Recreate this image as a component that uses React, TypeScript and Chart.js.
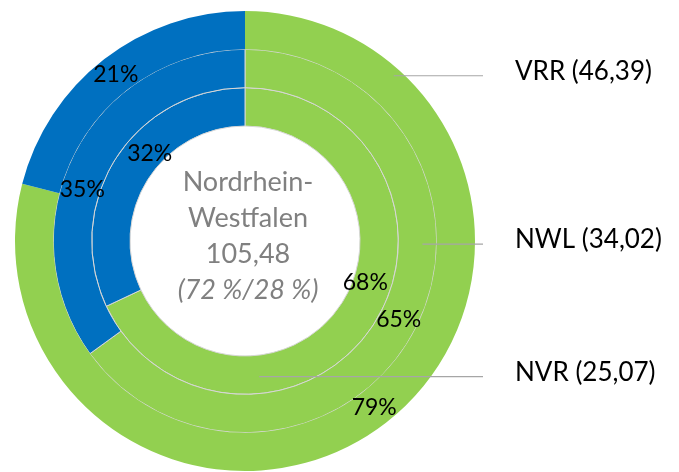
import React, { useEffect, useRef } from "react";
import { Chart, registerables } from "chart.js";

Chart.register(...registerables);

// Rings from outside to inside
const ringNames = ["VRR", "NWL", "NVR"];
const ringValues = [46.39, 34.02, 25.07];
const greenShare = [79, 65, 68];
const blueShare = [21, 35, 32];
const centerTitle = ["Nordrhein-", "Westfalen"];
const totalValue = 105.48;
const overallSplit = [72, 28];

const GREEN = "#92D050";
const BLUE = "#0070C0";
const FONT = "Lato, 'Open Sans', sans-serif";

// pixel nudges for percent labels [ring][segment]
const labelNudges = [
  [{ dx: 0, dy: 0 }, { dx: 0, dy: 0 }],
  [{ dx: 0, dy: 0 }, { dx: -9, dy: 27 }],
  [{ dx: 7, dy: -30 }, { dx: 18, dy: -16 }],
];
// leader anchors: angle clockwise from top (deg), fraction across ring
const leaderAnchors = [
  { angle: 42, frac: 0.8 },
  { angle: 91, frac: 0.63 },
  { angle: 174, frac: 0.56 },
];

const fmt = (v: number) => v.toFixed(2).replace(".", ",");

const labelPlugin = {
  id: "ringLabels",
  afterDraw(chart: any) {
    const ctx = chart.ctx;
    ctx.save();
    let cx = 0;
    let cy = 0;
    chart.data.datasets.forEach((ds: any, di: number) => {
      const meta = chart.getDatasetMeta(di);
      const total = ds.data.reduce((a: number, b: number) => a + b, 0);
      meta.data.forEach((arc: any, i: number) => {
        const p = arc.getProps(["x", "y", "startAngle", "endAngle", "innerRadius", "outerRadius"], true);
        cx = p.x;
        cy = p.y;
        const mid = (p.startAngle + p.endAngle) / 2;
        const r = (p.innerRadius + p.outerRadius) / 2;
        const n = labelNudges[di][i];
        const x = p.x + Math.cos(mid) * r + n.dx;
        const y = p.y + Math.sin(mid) * r + n.dy;
        ctx.font = `23px ${FONT}`;
        ctx.fillStyle = "#000";
        ctx.textAlign = "center";
        ctx.textBaseline = "middle";
        ctx.fillText(Math.round((ds.data[i] / total) * 100) + "%", x, y);
      });
      // leader line & ring label
      const a0 = meta.data[0].getProps(["innerRadius", "outerRadius"], true);
      const anc = leaderAnchors[di];
      const rr = a0.innerRadius + (a0.outerRadius - a0.innerRadius) * anc.frac;
      const ang = (anc.angle * Math.PI) / 180;
      const sx = cx + Math.sin(ang) * rr;
      const sy = cy - Math.cos(ang) * rr;
      const ex = chart.chartArea.right + 8;
      ctx.strokeStyle = "#a6a6a6";
      ctx.lineWidth = 1.2;
      ctx.beginPath();
      ctx.moveTo(sx, sy);
      ctx.lineTo(ex, sy);
      ctx.stroke();
      ctx.font = `26px ${FONT}`;
      ctx.fillStyle = "#000";
      ctx.textAlign = "left";
      ctx.textBaseline = "middle";
      ctx.fillText(`${ringNames[di]} (${fmt(ringValues[di])})`, ex + 32, sy - 4);
    });
    // center text
    const lines = [
      { t: centerTitle[0], italic: false },
      { t: centerTitle[1], italic: false },
      { t: fmt(totalValue), italic: false },
      { t: `(${overallSplit[0]} %/${overallSplit[1]} %)`, italic: true },
    ];
    ctx.fillStyle = "#808080";
    ctx.textAlign = "center";
    ctx.textBaseline = "middle";
    lines.forEach((l, i) => {
      ctx.font = `${l.italic ? "italic " : ""}27px ${FONT}`;
      ctx.fillText(l.t, cx + 3, cy + (i - 1.5) * 36 - 5);
    });
    ctx.restore();
  },
};

export default function App() {
  const ref = useRef<HTMLCanvasElement>(null);
  useEffect(() => {
    if (!ref.current) return;
    const datasets = ringNames.map((name, i) => ({
      label: name,
      data: [greenShare[i], blueShare[i]],
      backgroundColor: [GREEN, BLUE],
      borderColor: "#d6d6d6",
      borderWidth: i === 0 ? 0 : 1,
    }));
    const chart = new Chart(ref.current, {
      type: "doughnut",
      data: { labels: ["grün", "blau"], datasets },
      options: {
        animation: false,
        responsive: true,
        maintainAspectRatio: false,
        cutout: "50%",
        layout: { padding: { left: 15, right: 204, top: 11, bottom: 1 } },
        plugins: { legend: { display: false }, tooltip: { enabled: false } },
      },
      plugins: [labelPlugin],
    });
    return () => chart.destroy();
  }, []);
  return (
    <div style={{ position: "absolute", left: 0, top: 0, width: 679, height: 472 }}>
      <canvas ref={ref} />
    </div>
  );
}
